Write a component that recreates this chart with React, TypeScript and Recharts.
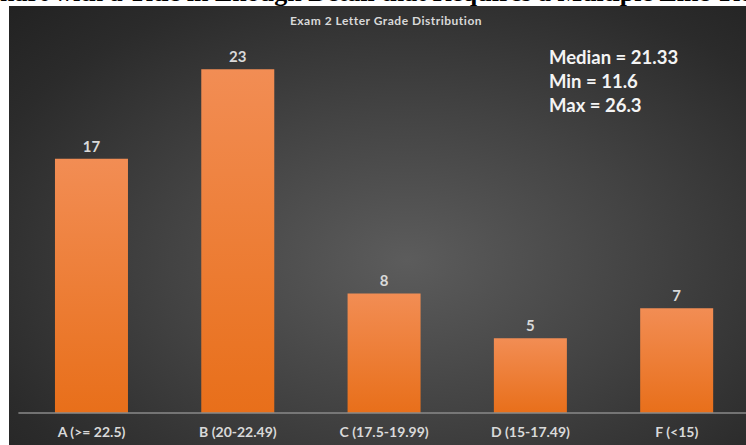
import React from "react";
import { BarChart, Bar, XAxis, YAxis, LabelList } from "recharts";

const categories = ["A (>= 22.5)", "B (20-22.49)", "C (17.5-19.99)", "D (15-17.49)", "F (<15)"];
const counts = [17, 23, 8, 5, 7];
const statLines = ["Median = 21.33", "Min = 11.6", "Max = 26.3"];
const chartTitle = "Exam 2 Letter Grade Distribution";
const pageTitlePrefix = "A Bar C";
const pageTitleRest = "hart with a Title in Enough Detail that Requires a Multiple Line Title";

const data = categories.map((name, i) => ({ name, count: counts[i] }));

const FONT = "Lato, 'Open Sans', 'DejaVu Sans', sans-serif";

export default function App() {
  return (
    <div
      style={{
        position: "fixed",
        left: 0,
        top: 0,
        width: 746,
        height: 445,
        overflow: "hidden",
        background: "#ffffff",
      }}
    >
      <style>{"html,body{overflow:hidden;}"}</style>
      <div
        style={{
          position: "absolute",
          left: 0,
          top: -20,
          whiteSpace: "nowrap",
          fontFamily: "'Liberation Serif', 'Times New Roman', serif",
          fontWeight: 700,
          fontSize: 26,
          lineHeight: "26px",
          color: "#000",
        }}
      >
        <span style={{ position: "absolute", right: "100%" }}>{pageTitlePrefix}</span>
        {pageTitleRest}
      </div>
      <div
        style={{
          position: "absolute",
          left: 9,
          top: 6,
          right: 0,
          bottom: 0,
          background:
            "radial-gradient(ellipse at 54% 58%, #5c5c5c 0%, #434343 42%, #2b2b2b 80%, #222222 100%)",
        }}
      />
      <div style={{ position: "absolute", left: 0, top: 0 }}>
        <BarChart
          width={760}
          height={445}
          data={data}
          margin={{ top: 39.25, right: 10.1, bottom: 0, left: 18.4 }}
          barCategoryGap="25%"
        >
          <defs>
            <linearGradient id="barFill" x1="0" y1="0" x2="0" y2="1">
              <stop offset="0%" stopColor="#f28d54" />
              <stop offset="100%" stopColor="#e86f1a" />
            </linearGradient>
          </defs>
          <XAxis
            dataKey="name"
            height={32}
            tickLine={false}
            axisLine={{ stroke: "#8a8a8a", strokeWidth: 1.5 }}
            tickMargin={8}
            interval={0}
            tick={{ fill: "#d9d9d9", fontSize: 14, fontFamily: FONT, fontWeight: 700 }}
          />
          <YAxis hide domain={[0, 25]} />
          <Bar dataKey="count" fill="url(#barFill)" isAnimationActive={false}>
            <LabelList
              dataKey="count"
              position="top"
              offset={7}
              fill="#d9d9d9"
              style={{ fontSize: 15, fontFamily: FONT, fontWeight: 700 }}
            />
          </Bar>
        </BarChart>
      </div>
      <div
        style={{
          position: "absolute",
          left: 272,
          width: 228,
          top: 13,
          textAlign: "center",
          fontFamily: FONT,
          fontWeight: 700,
          fontSize: 12,
          letterSpacing: 0.5,
          color: "#d9d9d9",
          lineHeight: "16px",
        }}
      >
        {chartTitle}
      </div>
      <div
        style={{
          position: "absolute",
          left: 549,
          top: 45,
          fontFamily: FONT,
          fontWeight: 700,
          fontSize: 18.5,
          lineHeight: "24px",
          color: "#f4f4f4",
        }}
      >
        {statLines.map((s) => (
          <div key={s}>{s}</div>
        ))}
      </div>
    </div>
  );
}
